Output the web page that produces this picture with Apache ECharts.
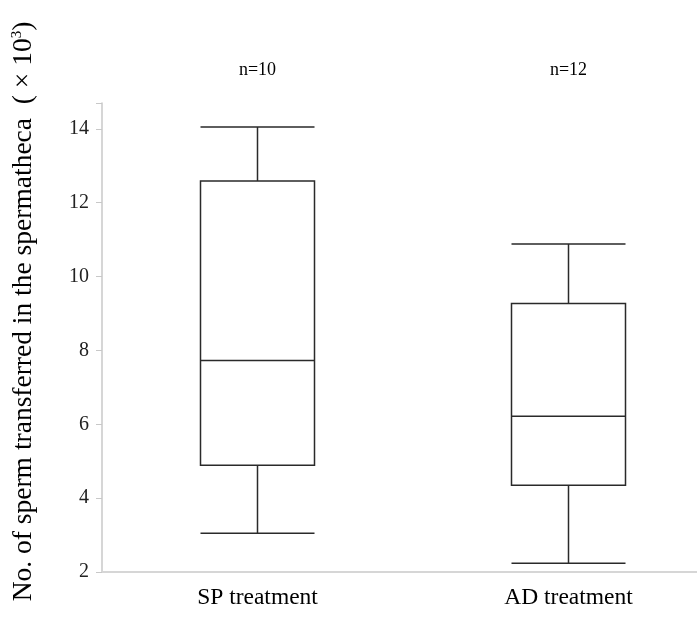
<!DOCTYPE html>
<html><head><meta charset="utf-8">
<script src="https://cdn.jsdelivr.net/npm/echarts@6/dist/echarts.min.js"></script>
<style>html,body{margin:0;padding:0;background:#fff}#c{width:697px;height:617px}</style>
</head><body><div id="c"></div>
<script>
var categories = ['SP treatment', 'AD treatment'];
var sampleSizes = ['n=10', 'n=12'];
// [min, Q1, median, Q3, max]
var boxValues = [
  [3.05, 4.89, 7.73, 12.59, 14.05],
  [2.24, 4.35, 6.22, 9.27, 10.88]
];
var yTicks = [2, 4, 6, 8, 10, 12, 14];

var chart = echarts.init(document.getElementById('c'));
var serif = '"Liberation Serif", "DejaVu Serif", serif';
chart.setOption({
  backgroundColor: '#fff',
  animation: false,
  grid: { left: 102, right: -27, top: 103, bottom: 45, outerBoundsMode: 'none', containLabel: false },
  xAxis: [{
    type: 'category',
    data: categories,
    boundaryGap: true,
    axisLine: { lineStyle: { color: '#d6d6d6', width: 2 } },
    axisTick: { show: false },
    axisLabel: { color: '#000', fontFamily: serif, fontSize: 23.5, margin: 14 }
  }, {
    type: 'category',
    data: sampleSizes,
    position: 'top',
    boundaryGap: true,
    axisLine: { show: false },
    axisTick: { show: false },
    axisLabel: { color: '#000', fontFamily: serif, fontSize: 18, margin: 24 }
  }],
  yAxis: {
    type: 'value',
    min: yTicks[0],
    max: 14.7,
    interval: 2,
    splitLine: { show: false },
    axisLine: { show: true, lineStyle: { color: '#c8c8c8', width: 1.5 } },
    axisTick: { show: true, length: 6, lineStyle: { color: '#c8c8c8' } },
    axisLabel: {
      color: '#222', fontFamily: serif, fontSize: 20, margin: 13,
      formatter: function (v) { return yTicks.indexOf(v) >= 0 ? String(v) : ''; }
    },
    name: 'No. of sperm transferred in the spermatheca  ( × 10{sup|3})',
    nameLocation: 'middle',
    nameGap: 64,
    nameTextStyle: {
      color: '#000', fontFamily: serif, fontSize: 27.5,
      padding: [0, 0, 0, 52],
      rich: { sup: { fontFamily: serif, fontSize: 15, verticalAlign: 'top', padding: [0, 0, 12, 0] } }
    }
  },
  series: [{
    type: 'boxplot',
    data: boxValues,
    boxWidth: [114, 114],
    itemStyle: { color: '#fff', borderColor: '#2a2a2a', borderWidth: 1.5 },
    emphasis: { disabled: true }
  }]
});
</script></body></html>
